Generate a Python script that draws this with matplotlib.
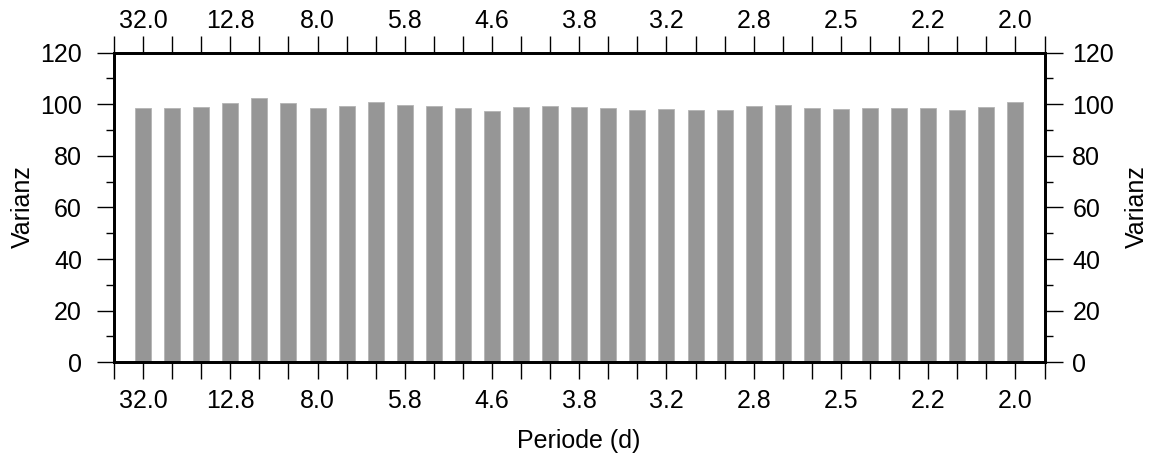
import matplotlib
matplotlib.use('Agg')

import matplotlib.pyplot as plt
import matplotlib.ticker as tkr
import numpy as np

plt.rcParams['font.family'] = ['Liberation Sans', 'DejaVu Sans']

# Varianz pro Band
varianz = [98.7, 98.7, 99.1, 100.5, 102.3, 100.6, 98.7, 99.5, 101.0, 99.7,
           99.4, 98.7, 97.5, 99.0, 99.5, 99.1, 98.6, 97.9, 98.3, 97.7,
           97.7, 99.5, 99.7, 98.7, 98.3, 98.7, 98.7, 98.7, 97.9, 99.1, 101.0]
label_pos = [1, 4, 7, 10, 13, 16, 19, 22, 25, 28, 31]
label_txt = ['32.0', '12.8', '8.0', '5.8', '4.6', '3.8', '3.2', '2.8', '2.5', '2.2', '2.0']

x = np.arange(1, len(varianz) + 1)
fs = 18

fig = plt.figure(figsize=(11.52, 4.57), dpi=100)
ax = fig.add_axes([114/1152, 1 - 362.3/457, (1044.5 - 114)/1152, (362.3 - 52.7)/457])

ax.bar(x, varianz, width=0.55, color='#969696', edgecolor='#b4b4b4', linewidth=0.6, zorder=2)
ax.set_xlim(0, 32)
ax.set_ylim(0, 120)

all_ticks = list(range(0, 33))
names = dict(zip(label_pos, label_txt))


def xfmt(v, pos=None):
    return names.get(int(round(v)), '')


for s in ax.spines.values():
    s.set_linewidth(1.8)

ax.xaxis.set_major_locator(tkr.FixedLocator(all_ticks))
ax.xaxis.set_major_formatter(tkr.FuncFormatter(xfmt))
ax.yaxis.set_major_locator(tkr.MultipleLocator(20))
ax.yaxis.set_minor_locator(tkr.MultipleLocator(10))
ax.tick_params(axis='x', direction='out', length=12, width=1, pad=7, labelsize=fs)
ax.tick_params(axis='y', which='major', direction='out', length=12, width=1, pad=11, labelsize=fs)
ax.tick_params(axis='y', which='minor', direction='out', length=6, width=1)

# obere Achse
axt = ax.twiny()
axt.set_xlim(ax.get_xlim())
axt.xaxis.set_major_locator(tkr.FixedLocator(all_ticks))
axt.xaxis.set_major_formatter(tkr.FuncFormatter(xfmt))
axt.tick_params(axis='x', direction='out', length=12, width=1, pad=2, labelsize=fs)
for s in axt.spines.values():
    s.set_linewidth(1.8)

# rechte Achse
axr = ax.twinx()
axr.set_ylim(ax.get_ylim())
axr.yaxis.set_major_locator(tkr.MultipleLocator(20))
axr.yaxis.set_minor_locator(tkr.MultipleLocator(10))
axr.tick_params(axis='y', which='major', direction='out', length=13, width=1, pad=7, labelsize=fs)
axr.tick_params(axis='y', which='minor', direction='out', length=6, width=1)
for s in axr.spines.values():
    s.set_linewidth(1.8)

fig.text(23/1152, 1 - 207/457, 'Varianz', rotation=90, ha='center', va='center', fontsize=fs)
fig.text(1137/1152, 1 - 207/457, 'Varianz', rotation=90, ha='center', va='center', fontsize=fs)
fig.text(579/1152, 1 - 441/457, 'Periode (d)', ha='center', va='center', fontsize=fs)

plt.savefig('out.png', dpi=100)
